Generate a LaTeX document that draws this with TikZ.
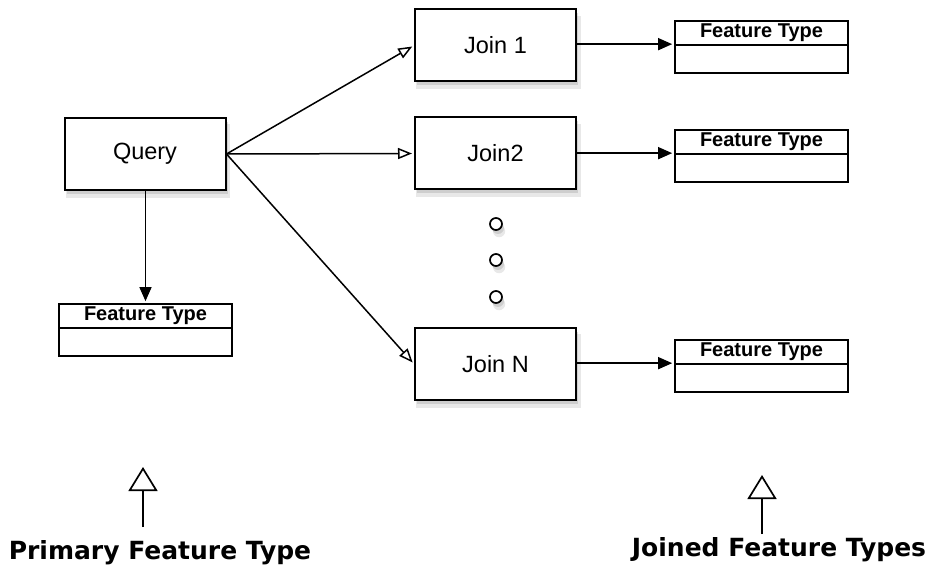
\documentclass[tikz,border=0pt]{standalone}
\usepackage{fontspec}
\setmainfont{Liberation Sans}
\newfontfamily\labfont{DejaVu Sans}
\usetikzlibrary{arrows.meta,shadows,calc}
\begin{document}
\begin{tikzpicture}[x=1pt,y=-1pt,
  shadowed/.style={drop shadow={opacity=0.18,shadow xshift=3pt,shadow yshift=-7pt,shadow scale=1.02},
                   drop shadow={opacity=0.25,shadow xshift=2pt,shadow yshift=-4pt}},
  procbox/.style={draw=black,line width=2pt,fill=white,minimum width=161pt,minimum height=72pt,inner sep=0pt,font=\fontsize{23.5}{25}\selectfont,shadowed},
  ftbox/.style={draw=black,line width=1.7pt,fill=white,minimum width=173pt,minimum height=52pt,inner sep=0pt,
    path picture={\draw[line width=1.7pt] ([yshift=-24pt]path picture bounding box.north west) -- ([yshift=-24pt]path picture bounding box.north east);}},
  fttext/.style={anchor=north,inner sep=0pt,font=\fontsize{20}{22}\selectfont\bfseries,yshift=-3pt},
  dot/.style={circle,draw=black,line width=1.7pt,fill=white,minimum size=12pt,inner sep=0pt,shadowed},
  openarrow/.style={line width=1.5pt,-{Triangle[open,length=14pt,width=11pt,line width=1.5pt]},shorten >=2pt},
  fillarrow/.style={line width=1.5pt,-{Triangle[length=14pt,width=12pt]},shorten >=2pt},
  bigarrow/.style={line width=1.7pt,-{Triangle[open,length=24pt,width=29pt,line width=1.7pt]}},
  biglabel/.style={font=\labfont\fontsize{25}{27}\selectfont\bfseries,inner sep=0pt}
]
\useasboundingbox (0,0) rectangle (929,569);

% process boxes
\node[procbox] (q) at (145,154) {Query};
\node[procbox] (j1) at (495.5,45.5) {Join 1};
\node[procbox] (j2) at (495.5,153.5) {Join2};
\node[procbox] (jn) at (495.5,364) {Join N};

% feature type boxes
\node[ftbox] (f0) at (145.5,330) {};
\node[fttext] at (f0.north) {Feature Type};
\node[ftbox] (f1) at (761.5,47) {};
\node[fttext] at (f1.north) {Feature Type};
\node[ftbox] (f2) at (761.5,156) {};
\node[fttext] at (f2.north) {Feature Type};
\node[ftbox] (f3) at (761.5,366) {};
\node[fttext] at (f3.north) {Feature Type};

% dots
\node[dot] (d1) at (496,224) {};
\node[dot] (d2) at (496,260) {};
\node[dot] (d3) at (496,297) {};

% connectors
\draw[openarrow] (q.east) -- (j1.west);
\draw[openarrow] (q.east) -- (j2.west);
\draw[openarrow] (q.east) -- (jn.west);
\draw[fillarrow] (q.south -| f0.north) -- (f0.north);
\draw[fillarrow] ($(f1.north west)+(0,24)$) coordinate (a1) (j1.east |- a1) -- (a1);
\draw[fillarrow] ($(f2.north west)+(0,24)$) coordinate (a2) (j2.east |- a2) -- (a2);
\draw[fillarrow] ($(f3.north west)+(0,24)$) coordinate (a3) (jn.east |- a3) -- (a3);

% bottom labels
\node[biglabel] (pl) at (160,553) {Primary Feature Type};
\node[biglabel] (jl) at (779,550) {Joined Feature Types};
\coordinate (ptip) at (143,467);
\coordinate (pbase) at (143,527);
\coordinate (jtip) at (762,475);
\coordinate (jbase) at (762,534);
\draw[bigarrow] (pbase) -- (ptip);
\draw[bigarrow] (jbase) -- (jtip);
\end{tikzpicture}
\end{document}
